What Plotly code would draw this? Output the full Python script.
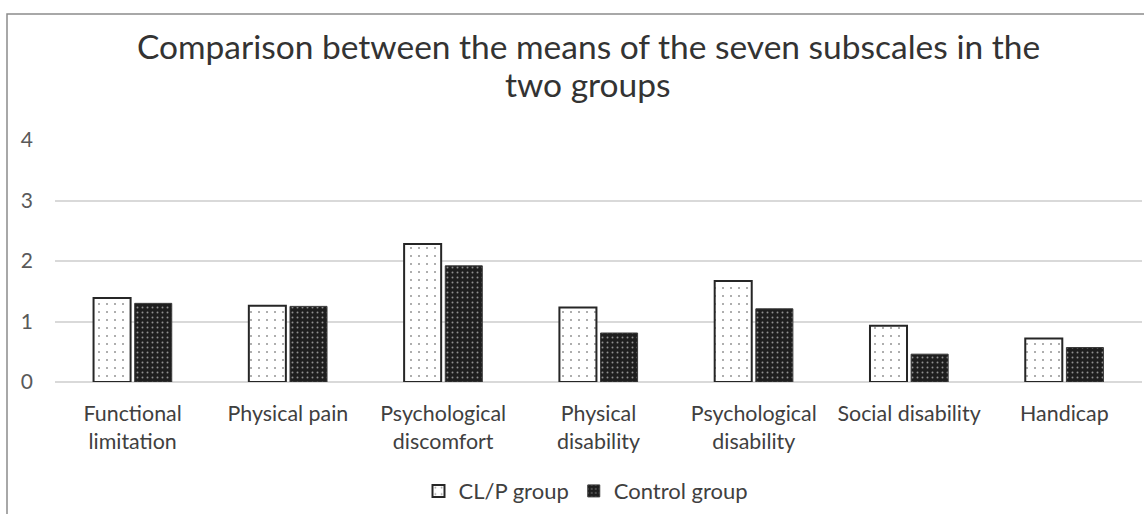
import plotly.graph_objects as go

categories = ["Functional<br>limitation", "Physical pain", "Psychological<br>discomfort",
              "Physical<br>disability", "Psychological<br>disability", "Social disability", "Handicap"]
clp_values = [1.39, 1.26, 2.28, 1.23, 1.67, 0.93, 0.72]
control_values = [1.30, 1.25, 1.92, 0.81, 1.21, 0.46, 0.57]
series_names = ["CL/P group", "Control group"]
title_lines = ["Comparison between the means of the seven subscales in the", "two groups"]
y_ticks = [0, 1, 2, 3, 4]

FONT = "Lato"
W, H = 1144, 514
ML, MR, MT, MB = 55, 2, 140, 130
pw = W - ML - MR
ph = H - MT - MB

def px_x(x):
    return (x - ML) / pw

def px_y(y):
    return (H - MB - y) / ph

fig = go.Figure()
fig.add_trace(go.Bar(
    x=categories, y=clp_values, name=series_names[0],
    marker=dict(color="white", line=dict(color="#262626", width=2),
                pattern=dict(shape=".", fgcolor="#262626", bgcolor="white",
                             size=8, solidity=0.05, fillmode="overlay")),
))
fig.add_trace(go.Bar(
    x=categories, y=control_values, name=series_names[1],
    marker=dict(color="#1e1e1e", line=dict(color="#3a3a3a", width=1),
                pattern=dict(shape=".", fgcolor="white", bgcolor="#1e1e1e",
                             size=5, solidity=0.12, fillmode="overlay")),
))

annotations = [
    dict(text=title_lines[0], x=px_x(588), y=px_y(45), xref="paper", yref="paper",
         xanchor="center", yanchor="middle", showarrow=False,
         font=dict(family=FONT, size=33.5, color="#333333")),
    dict(text=title_lines[1], x=px_x(588), y=px_y(84), xref="paper", yref="paper",
         xanchor="center", yanchor="middle", showarrow=False,
         font=dict(family=FONT, size=33.5, color="#333333")),
]

fig.update_layout(
    width=W, height=H,
    margin=dict(l=ML, r=MR, t=MT, b=MB),
    paper_bgcolor="white", plot_bgcolor="white",
    font=dict(family=FONT, color="#404040"),
    barmode="group", bargap=0.47, bargroupgap=0.1,
    annotations=annotations,
    showlegend=True,
    legend=dict(orientation="h", x=px_x(586), xanchor="center", y=px_y(494), yanchor="middle",
                font=dict(family=FONT, size=22, color="#404040"),
                itemwidth=30, traceorder="normal"),
    xaxis=dict(showgrid=False, showline=False, ticks="", tickangle=0,
               tickfont=dict(family=FONT, size=21.4, color="#404040"),
               ticklabelstandoff=17),
    yaxis=dict(range=[0, 4], tickvals=y_ticks, showgrid=True, gridcolor="#d9d9d9", gridwidth=1.5,
               zeroline=True, zerolinecolor="#d9d9d9", zerolinewidth=1.5, showline=False,
               ticks="", tickfont=dict(family=FONT, size=21, color="#595959"),
               ticklabelstandoff=21),
    shapes=[dict(type="rect", xref="paper", yref="paper",
                 x0=px_x(7), x1=px_x(1160), y0=px_y(530), y1=px_y(13),
                 line=dict(color="#8c8c8c", width=1.5), fillcolor="rgba(0,0,0,0)", layer="below")],
)

fig.write_html("out.html")
